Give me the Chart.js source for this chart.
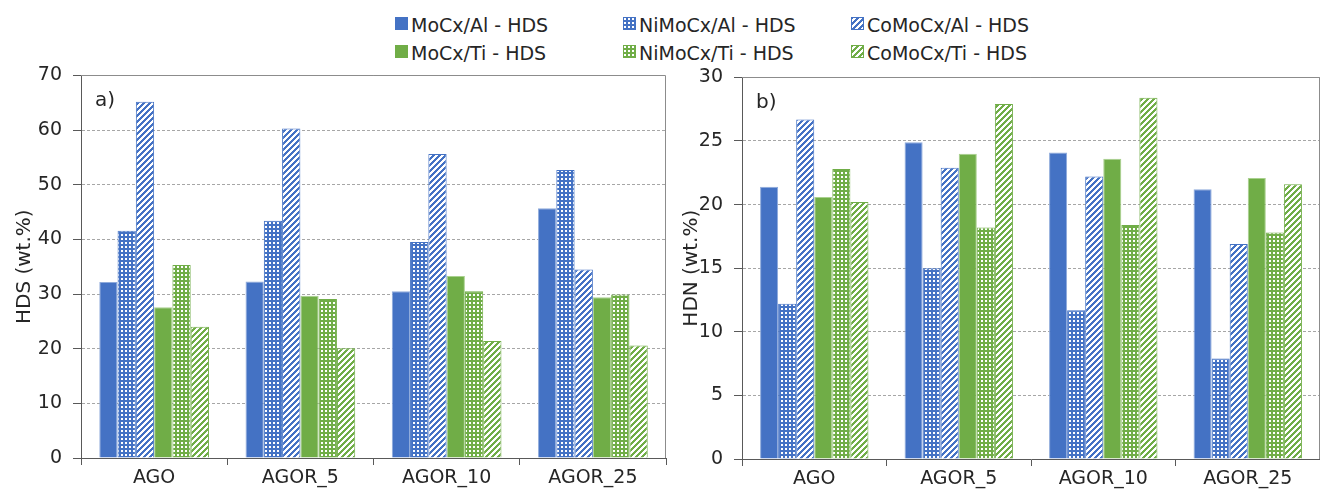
<!DOCTYPE html>
<html><head><meta charset="utf-8">
<script src="https://cdn.jsdelivr.net/npm/chart.js@4"></script>
<style>
html,body{margin:0;padding:0;background:#fff;width:1320px;height:494px;overflow:hidden;}
#c1{position:absolute;left:0;top:53px;}
#c2{position:absolute;left:680px;top:55px;}
.sw{position:absolute;width:13px;height:13px;}
.lt{position:absolute;font:19px "DejaVu Sans";color:#262626;white-space:nowrap;line-height:19px;}
</style></head>
<body>
<div id="legend"></div>
<canvas id="c1" width="680" height="441"></canvas>
<canvas id="c2" width="640" height="439"></canvas>
<script>
// ---- data ----
const categories = ['AGO', 'AGOR_5', 'AGOR_10', 'AGOR_25'];
const seriesNames = ['MoCx/Al - HDS', 'NiMoCx/Al - HDS', 'CoMoCx/Al - HDS', 'MoCx/Ti - HDS', 'NiMoCx/Ti - HDS', 'CoMoCx/Ti - HDS'];
// HDS (wt.%) panel a)
const hdsMoAl   = [32.2, 32.3, 30.5, 45.7];
const hdsNiMoAl = [41.6, 43.4, 39.5, 52.7];
const hdsCoMoAl = [65.2, 60.3, 55.6, 34.5];
const hdsMoTi   = [27.6, 29.7, 33.3, 29.4];
const hdsNiMoTi = [35.3, 29.1, 30.5, 29.9];
const hdsCoMoTi = [24.0, 20.1, 21.4, 20.6];
// HDN (wt.%) panel b)
const hdnMoAl   = [21.4, 24.9, 24.1, 21.2];
const hdnNiMoAl = [12.2, 15.0, 11.7, 7.9];
const hdnCoMoAl = [26.7, 22.9, 22.2, 16.9];
const hdnMoTi   = [20.6, 24.0, 23.6, 22.1];
const hdnNiMoTi = [22.8, 18.2, 18.4, 17.8];
const hdnCoMoTi = [20.2, 27.9, 28.4, 21.6];
const hdsTicks = [0, 10, 20, 30, 40, 50, 60, 70];
const hdnTicks = [0, 5, 10, 15, 20, 25, 30];

// ---- styles ----
const BLUE = '#4472C4', GREEN = '#70AD47';
const FONT = '"DejaVu Sans"';
function tile(color, kind) {
  const c = document.createElement('canvas');
  const n = kind === 'dots' ? 4 : 6;
  c.width = n; c.height = n;
  const x = c.getContext('2d');
  if (kind === 'dots') {
    x.fillStyle = color; x.fillRect(0, 0, n, n);
    x.fillStyle = '#fff'; x.fillRect(1, 1, 2, 2);
  } else {
    x.fillStyle = '#fff'; x.fillRect(0, 0, n, n);
    x.fillStyle = color;
    for (let i = 0; i < n; i++) for (let j = 0; j < n; j++) if ((i + j) % n < 3) x.fillRect(i, j, 1, 1);
  }
  return c;
}
function fillFor(color, kind) {
  if (kind === 'solid') return color;
  const ctx = document.createElement('canvas').getContext('2d');
  return ctx.createPattern(tile(color, kind), 'repeat');
}
const styles = [
  [BLUE, 'solid'], [BLUE, 'dots'], [BLUE, 'stripes'],
  [GREEN, 'solid'], [GREEN, 'dots'], [GREEN, 'stripes']
];
function makeDatasets(arrs) {
  return arrs.map((d, i) => {
    const [col, kind] = styles[i];
    return {
      label: seriesNames[i], data: d,
      backgroundColor: fillFor(col, kind),
      borderColor: kind === 'solid' ? (col === BLUE ? '#8eaadb' : '#a9d18e') : col,
      borderWidth: 1
    };
  });
}

// ---- legend (HTML) ----
const leg = document.getElementById('legend');
const colX = [395, 623, 851], rowY = [17, 45];
seriesNames.forEach((name, i) => {
  const col = i % 3, row = Math.floor(i / 3);
  const [color, kind] = styles[i];
  const sw = document.createElement('canvas');
  sw.width = 13; sw.height = 13; sw.className = 'sw';
  sw.style.left = colX[col] + 'px'; sw.style.top = rowY[row] + 'px';
  const g = sw.getContext('2d');
  g.fillStyle = kind === 'solid' ? color : g.createPattern(tile(color, kind), 'repeat');
  g.fillRect(0, 0, 13, 13);
  if (kind !== 'solid') { g.strokeStyle = color; g.lineWidth = 1; g.strokeRect(0.5, 0.5, 12, 12); }
  leg.appendChild(sw);
  const t = document.createElement('span');
  t.className = 'lt'; t.textContent = name;
  t.style.left = (colX[col] + 16) + 'px'; t.style.top = (rowY[row] - 1) + 'px';
  leg.appendChild(t);
});

// ---- plugin: plot box + panel label ----
const boxPlugin = {
  id: 'box',
  afterDraw(chart, args, opts) {
    const { ctx, chartArea: a } = chart;
    ctx.save();
    ctx.strokeStyle = '#8c8c8c'; ctx.lineWidth = 1;
    ctx.beginPath();
    const t = Math.round(a.top) + 0.5, r = Math.round(a.right) - 0.5;
    ctx.moveTo(a.left, t); ctx.lineTo(r, t); ctx.lineTo(r, a.bottom);
    ctx.stroke();
    ctx.fillStyle = '#262626';
    ctx.font = '20px ' + FONT;
    ctx.textBaseline = 'alphabetic';
    ctx.fillText(opts.label, a.left + 14, a.top + 31);
    ctx.restore();
  }
};

function makeChart(id, arrs, ticks, title, label, yWidth, padTop, padRight, xHeight, titlePad) {
  const tickFont = { family: FONT, size: 19 };
  const titleFont = { family: FONT, size: 20 };
  return new Chart(document.getElementById(id), {
    type: 'bar',
    data: { labels: categories, datasets: makeDatasets(arrs) },
    plugins: [boxPlugin],
    options: {
      responsive: false, animation: false,
      layout: { padding: { top: padTop, right: padRight, left: 0, bottom: 0 } },
      datasets: { bar: { categoryPercentage: 0.75, barPercentage: 1.0 } },
      plugins: { legend: { display: false }, tooltip: { enabled: false }, box: { label: label } },
      scales: {
        x: {
          grid: { offset: true, drawOnChartArea: false, drawTicks: true, tickLength: 7, tickColor: '#595959', tickBorderDash: [] },
          border: { color: '#595959', width: 1 },
          ticks: { font: tickFont, color: '#262626', padding: 2, maxRotation: 0 },
          afterFit(s) { s.height = xHeight; }
        },
        y: {
          min: ticks[0], max: ticks[ticks.length - 1],
          afterBuildTicks(s) { s.ticks = ticks.map(v => ({ value: v })); },
          grid: { color: '#a6a6a6', lineWidth: 1, tickLength: 8, tickColor: '#595959', tickBorderDash: [] },
          border: { color: '#595959', width: 1, dash: [3, 2] },
          ticks: { font: tickFont, color: '#262626', padding: 11 },
          title: { display: true, text: title, font: titleFont, color: '#262626', padding: { top: titlePad, bottom: 0 } },
          afterFit(s) { s.width = yWidth; }
        }
      }
    }
  });
}

makeChart('c1', [hdsMoAl, hdsNiMoAl, hdsCoMoAl, hdsMoTi, hdsNiMoTi, hdsCoMoTi], hdsTicks, 'HDS (wt.%)', 'a)', 81, 0, 14, 36, 13);
makeChart('c2', [hdnMoAl, hdnNiMoAl, hdnCoMoAl, hdnMoTi, hdnNiMoTi, hdnCoMoTi], hdnTicks, 'HDN (wt.%)', 'b)', 62, 0, 0, 35, 0);
</script>
</body></html>
